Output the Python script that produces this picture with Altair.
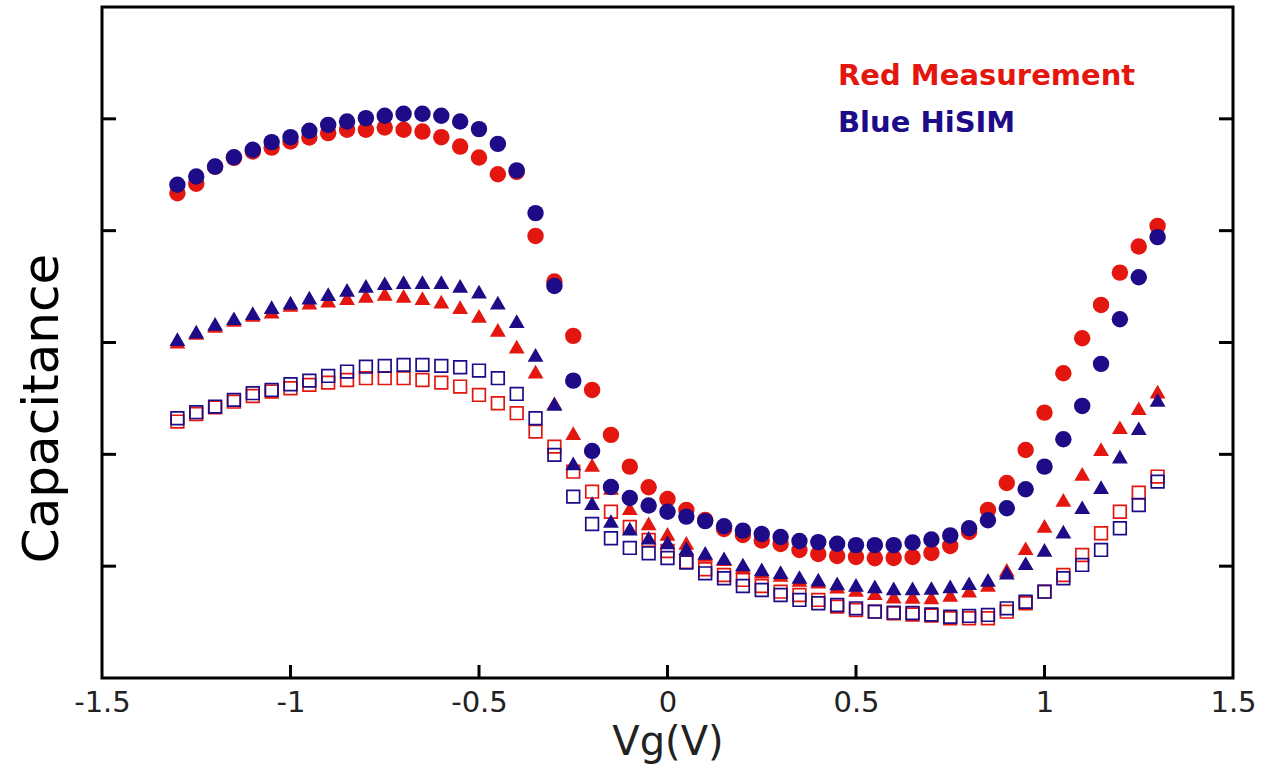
import altair as alt
import pandas as pd

# Gate voltage grid (V)
vg = [-1.3, -1.25, -1.2, -1.15, -1.1, -1.05, -1.0, -0.95, -0.9, -0.85,
      -0.8, -0.75, -0.7, -0.65, -0.6, -0.55, -0.5, -0.45, -0.4, -0.35,
      -0.3, -0.25, -0.2, -0.15, -0.1, -0.05, 0.0, 0.05, 0.1, 0.15,
      0.2, 0.25, 0.3, 0.35, 0.4, 0.45, 0.5, 0.55, 0.6, 0.65,
      0.7, 0.75, 0.8, 0.85, 0.9, 0.95, 1.0, 1.05, 1.1, 1.15,
      1.2, 1.25, 1.3]

# Measurement (red) – filled circles
meas_circle = [4.335, 4.419, 4.571, 4.651, 4.708, 4.743, 4.797, 4.833, 4.872, 4.902,
               4.902, 4.922, 4.902, 4.886, 4.836, 4.752, 4.654, 4.505, 4.526, 3.953,
               3.545, 3.059, 2.576, 2.174, 1.890, 1.706, 1.601, 1.503, 1.413, 1.333,
               1.279, 1.230, 1.199, 1.145, 1.109, 1.091, 1.082, 1.071, 1.073, 1.082,
               1.118, 1.181, 1.306, 1.503, 1.744, 2.039, 2.373, 2.725, 3.038, 3.336,
               3.625, 3.858, 4.043]
# HiSIM (blue) – filled circles
hisim_circle = [4.410, 4.484, 4.573, 4.657, 4.723, 4.792, 4.836, 4.893, 4.946, 4.976,
                5.006, 5.027, 5.045, 5.045, 5.027, 4.976, 4.908, 4.776, 4.539, 4.157,
                3.506, 2.659, 2.030, 1.708, 1.610, 1.543, 1.487, 1.443, 1.403, 1.357,
                1.318, 1.288, 1.261, 1.225, 1.215, 1.201, 1.188, 1.188, 1.188, 1.212,
                1.238, 1.275, 1.339, 1.411, 1.518, 1.688, 1.890, 2.135, 2.433, 2.809,
                3.208, 3.584, 3.942]
# Measurement (red) – filled triangles
meas_tri = [3.008, 3.086, 3.148, 3.202, 3.247, 3.276, 3.336, 3.357, 3.375, 3.396,
            3.417, 3.435, 3.417, 3.396, 3.366, 3.316, 3.238, 3.113, 2.963, 2.740,
            2.457, 2.189, 1.905, 1.699, 1.518, 1.382, 1.288, 1.208, 1.100, 1.062,
            0.993, 0.951, 0.921, 0.877, 0.861, 0.817, 0.787, 0.758, 0.727, 0.725,
            0.720, 0.742, 0.781, 0.832, 0.966, 1.160, 1.360, 1.592, 1.825, 2.046,
            2.242, 2.412, 2.561]
# HiSIM (blue) – filled triangles
hisim_tri = [3.030, 3.097, 3.166, 3.217, 3.262, 3.316, 3.357, 3.402, 3.432, 3.470,
             3.506, 3.530, 3.539, 3.539, 3.539, 3.506, 3.455, 3.357, 3.191, 2.889,
             2.451, 1.920, 1.563, 1.404, 1.335, 1.254, 1.212, 1.160, 1.118, 1.071,
             1.015, 0.972, 0.946, 0.903, 0.880, 0.846, 0.832, 0.820, 0.802, 0.802,
             0.805, 0.820, 0.847, 0.877, 0.942, 1.026, 1.145, 1.309, 1.527, 1.706,
             1.979, 2.233, 2.487]
# Measurement (red) – open squares
meas_sq = [2.293, 2.361, 2.420, 2.471, 2.522, 2.561, 2.591, 2.621, 2.641, 2.665,
           2.681, 2.681, 2.681, 2.665, 2.641, 2.606, 2.531, 2.457, 2.368, 2.203,
           2.069, 1.845, 1.666, 1.487, 1.351, 1.234, 1.136, 1.038, 0.972, 0.921,
           0.877, 0.823, 0.772, 0.742, 0.698, 0.638, 0.608, 0.593, 0.579, 0.568,
           0.559, 0.534, 0.534, 0.534, 0.593, 0.668, 0.772, 0.921, 1.100, 1.294,
           1.487, 1.657, 1.801]
# HiSIM (blue) – open squares
hisim_sq = [2.323, 2.377, 2.427, 2.487, 2.547, 2.576, 2.627, 2.659, 2.701, 2.740,
            2.784, 2.791, 2.800, 2.800, 2.791, 2.779, 2.749, 2.681, 2.540, 2.323,
            1.995, 1.622, 1.377, 1.250, 1.163, 1.115, 1.073, 1.033, 0.936, 0.892,
            0.823, 0.787, 0.742, 0.698, 0.668, 0.653, 0.623, 0.593, 0.584, 0.581,
            0.568, 0.548, 0.555, 0.564, 0.623, 0.682, 0.772, 0.892, 1.011, 1.145,
            1.339, 1.547, 1.756]

x_tick_values = [-1.5, -1.0, -0.5, 0.0, 0.5, 1.0, 1.5]
x_inner_ticks = [-1.0, -0.5, 0.0, 0.5, 1.0]
y_inner_ticks = [1, 2, 3, 4, 5]
legend_labels = ["Red Measurement", "Blue HiSIM"]

RED = "#e3170f"
BLUE = "#1d0b87"
FONT = "DejaVu Sans"
W, H = 1131, 671

xscale = alt.Scale(domain=[-1.5, 1.5], nice=False, zero=False)
yscale = alt.Scale(domain=[0, 6], nice=False, zero=False)

x_axis = alt.Axis(values=x_tick_values, labelExpr="'' + datum.value", ticks=False,
                  domain=False, grid=False, labelFont=FONT, labelFontSize=29,
                  labelColor="#222222", labelPadding=10, labelFlush=False,
                  labelOverlap=False, title="Vg(V)", titleFont=FONT, titleFontSize=40,
                  titleFontWeight="normal", titleColor="#222222", titleY=64,
                  titleBaseline="middle")
y_axis = alt.Axis(labels=False, ticks=False, domain=False, grid=False,
                  title="Capacitance", titleFont=FONT, titleFontSize=50,
                  titleFontWeight="normal", titleColor="#000000", titleAngle=270,
                  titleX=-60, titleY=401, titleAlign="center", titleBaseline="middle")


def pts(values, shape, color, filled, size):
    df = pd.DataFrame({"vg": vg, "c": values})
    if filled:
        mark = alt.Chart(df).mark_point(shape=shape, filled=True, color=color,
                                        size=size, opacity=1, strokeWidth=0)
    else:
        mark = alt.Chart(df).mark_point(shape=shape, filled=False, color=color,
                                        size=size, opacity=1, strokeWidth=1.7)
    return mark.encode(x=alt.X("vg:Q", scale=xscale, axis=x_axis),
                       y=alt.Y("c:Q", scale=yscale, axis=y_axis))


layers = [
    pts(meas_sq, "square", RED, False, 160),
    pts(meas_tri, "triangle-up", RED, True, 250),
    pts(meas_circle, "circle", RED, True, 270),
    pts(hisim_sq, "square", BLUE, False, 160),
    pts(hisim_tri, "triangle-up", BLUE, True, 250),
    pts(hisim_circle, "circle", BLUE, True, 270),
]

xt = alt.Chart(pd.DataFrame({"vg": x_inner_ticks})).mark_rule(color="black", strokeWidth=3).encode(
    x=alt.X("vg:Q", scale=xscale, axis=x_axis), y=alt.value(H), y2=alt.value(H - 13))
ytl = alt.Chart(pd.DataFrame({"c": y_inner_ticks})).mark_rule(color="black", strokeWidth=3).encode(
    y=alt.Y("c:Q", scale=yscale, axis=y_axis), x=alt.value(0), x2=alt.value(14))
ytr = alt.Chart(pd.DataFrame({"c": y_inner_ticks})).mark_rule(color="black", strokeWidth=3).encode(
    y=alt.Y("c:Q", scale=yscale, axis=y_axis), x=alt.value(W), x2=alt.value(W - 14))

leg1 = alt.Chart(pd.DataFrame({"t": [legend_labels[0]]})).mark_text(
    font=FONT, fontSize=29, fontWeight="bold", color=RED, align="left", baseline="alphabetic"
).encode(text="t:N", x=alt.value(736), y=alt.value(78))
leg2 = alt.Chart(pd.DataFrame({"t": [legend_labels[1]]})).mark_text(
    font=FONT, fontSize=29, fontWeight="bold", color=BLUE, align="left", baseline="alphabetic"
).encode(text="t:N", x=alt.value(736), y=alt.value(125))

chart = alt.layer(*layers, xt, ytl, ytr, leg1, leg2).properties(
    width=W, height=H, autosize="none",
    padding={"left": 102, "top": 7, "right": 32, "bottom": 86},
    background="white",
).configure_view(stroke="black", strokeWidth=3)

chart.save("out.html", embed_options={"renderer": "svg", "actions": False})
